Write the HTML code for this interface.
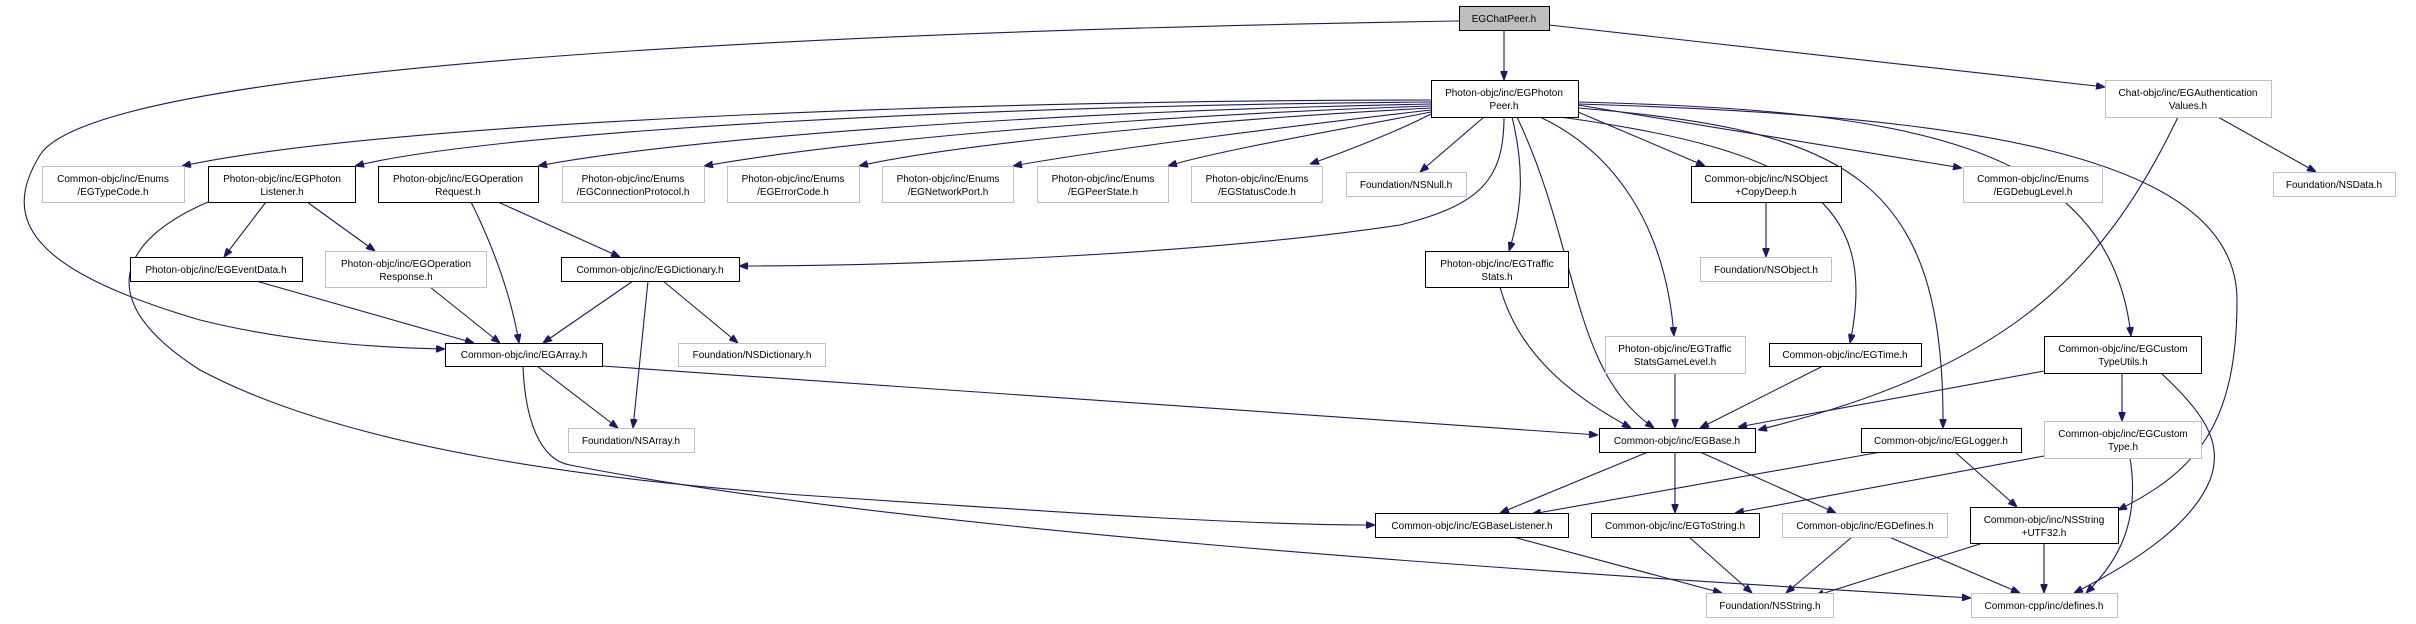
<!DOCTYPE html>
<html><head><meta charset="utf-8"><style>
html,body{margin:0;padding:0;background:#fff;}
svg{display:block;}
text{font-family:"Liberation Sans",Arial,sans-serif;font-size:10px;fill:#000;}
.e{fill:none;stroke:#191970;stroke-width:1.1;}
.b{fill:#fff;stroke:#000;stroke-width:1;}
.g{fill:#fff;stroke:#bfbfbf;stroke-width:1;}
</style></head><body>
<svg width="2416" height="624" viewBox="0 0 2416 624" xmlns="http://www.w3.org/2000/svg">
<defs><marker id="a" markerWidth="9" markerHeight="7" refX="9" refY="3.5" orient="auto" markerUnits="userSpaceOnUse"><path d="M0,0 L9,3.5 L0,7 z" fill="#191970" stroke="#191970"/></marker></defs>
<g marker-end="url(#a)">
<path class="e" d="M1504,30 L1504,80"/>
<path class="e" d="M1549,25 L2105,87"/>
<path class="e" d="M1459,21 C900,30 100,60 40,155 C0,220 30,270 200,320 C300,345 400,348 445,349"/>
<path class="e" d="M1431,100 C1000,100 400,120 182,166"/>
<path class="e" d="M1431,102 C1000,105 500,130 355,166"/>
<path class="e" d="M1431,104 C1100,110 700,135 538,166"/>
<path class="e" d="M1431,106 C1150,115 850,140 704,166"/>
<path class="e" d="M1431,108 C1200,120 950,145 859,166"/>
<path class="e" d="M1431,110 C1300,125 1100,150 1013,166"/>
<path class="e" d="M1431,112 C1350,128 1220,150 1168,166"/>
<path class="e" d="M1431,114 C1400,130 1350,150 1310,164"/>
<path class="e" d="M1484,117 L1420,172"/>
<path class="e" d="M1504,117 C1504,180 1480,205 1400,225 C1200,255 900,266 739,266"/>
<path class="e" d="M1512,117 C1525,170 1522,210 1509,251"/>
<path class="e" d="M1517,117 C1580,250 1570,370 1654,428"/>
<path class="e" d="M1540,117 C1610,150 1665,220 1674,336"/>
<path class="e" d="M1560,117 C1800,150 1880,200 1850,343"/>
<path class="e" d="M1578,108 C1850,130 1945,180 1943,428"/>
<path class="e" d="M1578,112 L1705,166"/>
<path class="e" d="M1578,105 L1962,168"/>
<path class="e" d="M1578,102 C1900,110 2110,140 2131,336"/>
<path class="e" d="M1578,104 C1950,115 2237,150 2237,300 C2237,420 2200,470 2118,510"/>
<path class="e" d="M2178,117 C2100,280 2000,370 1758,430"/>
<path class="e" d="M2218,117 L2316,172"/>
<path class="e" d="M1766,202 L1766,257"/>
<path class="e" d="M266,202 L224,257"/>
<path class="e" d="M307,202 L375,251"/>
<path class="e" d="M208,202 C120,240 90,300 200,370 C350,450 600,480 800,495 C1100,515 1250,525 1375,525"/>
<path class="e" d="M523,366 C525,420 540,460 570,465 C900,530 1500,570 1971,598"/>
<path class="e" d="M537,366 L618,428"/>
<path class="e" d="M602,366 L1598,435"/>
<path class="e" d="M471,202 C495,250 512,300 519,343"/>
<path class="e" d="M498,202 L620,257"/>
<path class="e" d="M256,281 L474,343"/>
<path class="e" d="M430,287 L500,343"/>
<path class="e" d="M633,281 L543,343"/>
<path class="e" d="M648,281 L633,428"/>
<path class="e" d="M663,281 L738,343"/>
<path class="e" d="M1500,287 C1520,360 1580,400 1631,428"/>
<path class="e" d="M1675,373 L1675,428"/>
<path class="e" d="M1823,366 L1700,428"/>
<path class="e" d="M2044,371 L1738,427"/>
<path class="e" d="M1648,452 L1500,513"/>
<path class="e" d="M1881,452 L1532,514"/>
<path class="e" d="M1675,452 L1675,513"/>
<path class="e" d="M1700,452 L1836,513"/>
<path class="e" d="M1955,452 L2017,507"/>
<path class="e" d="M2122,373 L2122,421"/>
<path class="e" d="M2161,373 C2200,410 2225,440 2210,480 C2190,530 2120,570 2074,593"/>
<path class="e" d="M2044,456 L1735,513"/>
<path class="e" d="M2130,458 C2140,520 2120,560 2086,593"/>
<path class="e" d="M1513,537 L1722,593"/>
<path class="e" d="M1689,537 L1752,593"/>
<path class="e" d="M1852,537 L1786,593"/>
<path class="e" d="M1889,537 L2020,593"/>
<path class="e" d="M1983,543 L1815,596"/>
<path class="e" d="M2044,543 L2044,593"/>
</g>
<g>
<rect x="1459.5" y="6.5" width="90" height="24" fill="#bfbfbf" stroke="#000"/>
<text x="1504" y="22" text-anchor="middle">EGChatPeer.h</text>
<rect class="b" x="1431.5" y="80.5" width="147" height="37"/>
<text x="1504" y="96" text-anchor="middle">Photon-objc/inc/EGPhoton</text><text x="1504" y="109" text-anchor="middle">Peer.h</text>
<rect class="g" x="2105.5" y="80.5" width="166" height="37"/>
<text x="2188" y="96" text-anchor="middle">Chat-objc/inc/EGAuthentication</text><text x="2188" y="109" text-anchor="middle">Values.h</text>

<rect class="g" x="42.5" y="166.5" width="142" height="36"/>
<text x="113" y="182" text-anchor="middle">Common-objc/inc/Enums</text><text x="113" y="195" text-anchor="middle">/EGTypeCode.h</text>
<rect class="b" x="208.5" y="166.5" width="147" height="36"/>
<text x="282" y="182" text-anchor="middle">Photon-objc/inc/EGPhoton</text><text x="282" y="195" text-anchor="middle">Listener.h</text>
<rect class="b" x="378.5" y="166.5" width="160" height="36"/>
<text x="458" y="182" text-anchor="middle">Photon-objc/inc/EGOperation</text><text x="458" y="195" text-anchor="middle">Request.h</text>
<rect class="g" x="562.5" y="166.5" width="142" height="36"/>
<text x="633" y="182" text-anchor="middle">Photon-objc/inc/Enums</text><text x="633" y="195" text-anchor="middle">/EGConnectionProtocol.h</text>
<rect class="g" x="727.5" y="166.5" width="132" height="36"/>
<text x="793" y="182" text-anchor="middle">Photon-objc/inc/Enums</text><text x="793" y="195" text-anchor="middle">/EGErrorCode.h</text>
<rect class="g" x="882.5" y="166.5" width="131" height="36"/>
<text x="948" y="182" text-anchor="middle">Photon-objc/inc/Enums</text><text x="948" y="195" text-anchor="middle">/EGNetworkPort.h</text>
<rect class="g" x="1037.5" y="166.5" width="131" height="36"/>
<text x="1103" y="182" text-anchor="middle">Photon-objc/inc/Enums</text><text x="1103" y="195" text-anchor="middle">/EGPeerState.h</text>
<rect class="g" x="1191.5" y="166.5" width="131" height="36"/>
<text x="1257" y="182" text-anchor="middle">Photon-objc/inc/Enums</text><text x="1257" y="195" text-anchor="middle">/EGStatusCode.h</text>
<rect class="g" x="1346.5" y="172.5" width="120" height="24"/>
<text x="1406" y="188" text-anchor="middle">Foundation/NSNull.h</text>
<rect class="b" x="1691.5" y="166.5" width="150" height="36"/>
<text x="1766" y="182" text-anchor="middle">Common-objc/inc/NSObject</text><text x="1766" y="195" text-anchor="middle">+CopyDeep.h</text>
<rect class="g" x="1963.5" y="166.5" width="139" height="36"/>
<text x="2033" y="182" text-anchor="middle">Common-objc/inc/Enums</text><text x="2033" y="195" text-anchor="middle">/EGDebugLevel.h</text>
<rect class="g" x="2273.5" y="172.5" width="122" height="24"/>
<text x="2334" y="188" text-anchor="middle">Foundation/NSData.h</text>

<rect class="b" x="130.5" y="257.5" width="172" height="24"/>
<text x="216" y="273" text-anchor="middle">Photon-objc/inc/EGEventData.h</text>
<rect class="g" x="325.5" y="251.5" width="161" height="36"/>
<text x="406" y="267" text-anchor="middle">Photon-objc/inc/EGOperation</text><text x="406" y="280" text-anchor="middle">Response.h</text>
<rect class="b" x="561.5" y="257.5" width="178" height="24"/>
<text x="650" y="273" text-anchor="middle">Common-objc/inc/EGDictionary.h</text>
<rect class="b" x="1425.5" y="251.5" width="143" height="36"/>
<text x="1497" y="267" text-anchor="middle">Photon-objc/inc/EGTraffic</text><text x="1497" y="280" text-anchor="middle">Stats.h</text>
<rect class="g" x="1700.5" y="257.5" width="131" height="24"/>
<text x="1766" y="273" text-anchor="middle">Foundation/NSObject.h</text>

<rect class="b" x="445.5" y="343.5" width="157" height="23"/>
<text x="524" y="358" text-anchor="middle">Common-objc/inc/EGArray.h</text>
<rect class="g" x="678.5" y="343.5" width="147" height="23"/>
<text x="752" y="358" text-anchor="middle">Foundation/NSDictionary.h</text>
<rect class="g" x="1605.5" y="336.5" width="140" height="37"/>
<text x="1675" y="352" text-anchor="middle">Photon-objc/inc/EGTraffic</text><text x="1675" y="365" text-anchor="middle">StatsGameLevel.h</text>
<rect class="b" x="1769.5" y="343.5" width="152" height="23"/>
<text x="1845" y="358" text-anchor="middle">Common-objc/inc/EGTime.h</text>
<rect class="b" x="2044.5" y="336.5" width="157" height="37"/>
<text x="2123" y="352" text-anchor="middle">Common-objc/inc/EGCustom</text><text x="2123" y="365" text-anchor="middle">TypeUtils.h</text>

<rect class="g" x="568.5" y="428.5" width="126" height="24"/>
<text x="631" y="444" text-anchor="middle">Foundation/NSArray.h</text>
<rect class="b" x="1599.5" y="428.5" width="156" height="24"/>
<text x="1677" y="444" text-anchor="middle">Common-objc/inc/EGBase.h</text>
<rect class="b" x="1861.5" y="428.5" width="160" height="24"/>
<text x="1941" y="444" text-anchor="middle">Common-objc/inc/EGLogger.h</text>
<rect class="g" x="2044.5" y="421.5" width="157" height="37"/>
<text x="2123" y="437" text-anchor="middle">Common-objc/inc/EGCustom</text><text x="2123" y="450" text-anchor="middle">Type.h</text>

<rect class="b" x="1375.5" y="513.5" width="193" height="24"/>
<text x="1472" y="529" text-anchor="middle">Common-objc/inc/EGBaseListener.h</text>
<rect class="b" x="1591.5" y="513.5" width="168" height="24"/>
<text x="1675" y="529" text-anchor="middle">Common-objc/inc/EGToString.h</text>
<rect class="g" x="1782.5" y="513.5" width="165" height="24"/>
<text x="1865" y="529" text-anchor="middle">Common-objc/inc/EGDefines.h</text>
<rect class="b" x="1970.5" y="507.5" width="148" height="36"/>
<text x="2044" y="523" text-anchor="middle">Common-objc/inc/NSString</text><text x="2044" y="536" text-anchor="middle">+UTF32.h</text>

<rect class="g" x="1706.5" y="593.5" width="127" height="24"/>
<text x="1770" y="609" text-anchor="middle">Foundation/NSString.h</text>
<rect class="g" x="1971.5" y="593.5" width="146" height="24"/>
<text x="2044" y="609" text-anchor="middle">Common-cpp/inc/defines.h</text>
</g>
</svg>
</body></html>
